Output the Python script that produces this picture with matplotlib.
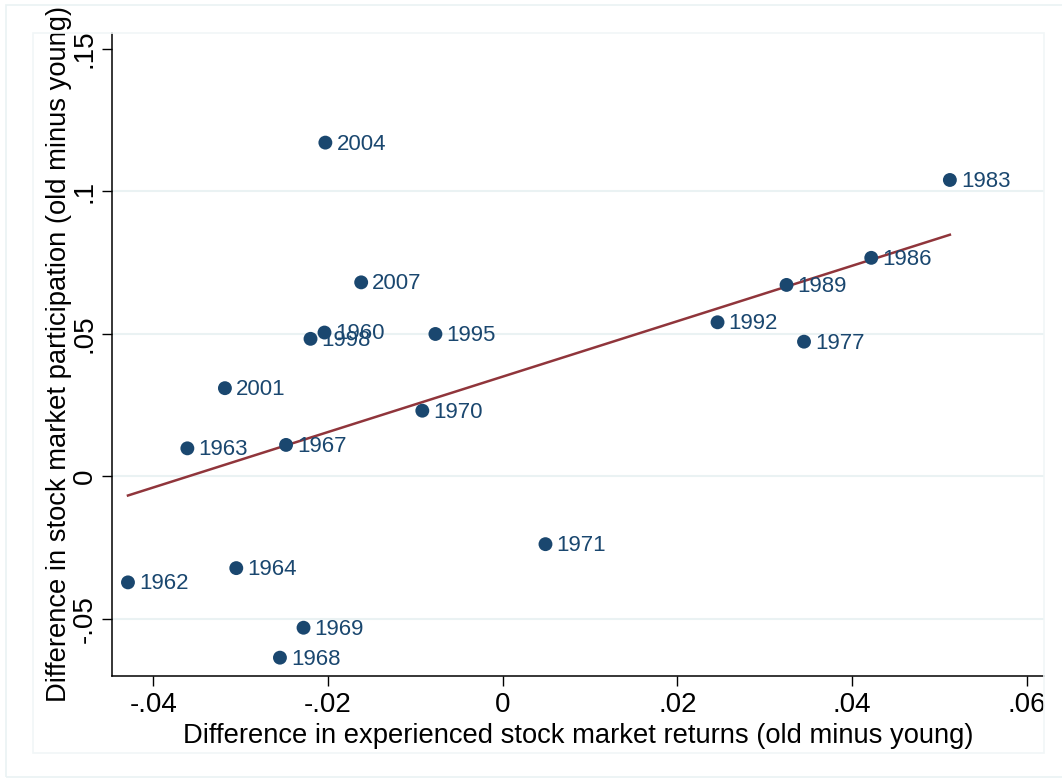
import matplotlib
matplotlib.use("Agg")
import matplotlib.pyplot as plt
from matplotlib.patches import Rectangle
import numpy as np

plt.rcParams['font.family'] = ['Liberation Sans', 'DejaVu Sans']

# cohort years and old-minus-young differences
years = ['2004', '1983', '1986', '1989', '1992', '1977', '2007', '1960', '1998',
         '1995', '2001', '1970', '1963', '1967', '1962', '1964', '1969', '1968',
         '1971']
ret_diff = [-0.0203, 0.0512, 0.0422, 0.0325, 0.0246, 0.0345, -0.0162, -0.0204,
            -0.0220, -0.0077, -0.0318, -0.0092, -0.0361, -0.0248, -0.0429,
            -0.0305, -0.0228, -0.0255, 0.0049]
part_diff = [0.1170, 0.1039, 0.0766, 0.0671, 0.0540, 0.0472, 0.0680, 0.0504,
             0.0482, 0.0499, 0.0309, 0.0230, 0.0098, 0.0110, -0.0372, -0.0322,
             -0.0531, -0.0636, -0.0238]

xticks = [-0.04, -0.02, 0, 0.02, 0.04, 0.06]
xticklabels = ['-.04', '-.02', '0', '.02', '.04', '.06']
yticks = [-0.05, 0, 0.05, 0.1, 0.15]
yticklabels = ['-.05', '0', '.05', '.1', '.15']

navy = '#1a476f'
maroon = '#90353b'
grid_col = '#eaf2f3'

fig = plt.figure(figsize=(10.62, 7.78), dpi=100)
ax = fig.add_axes([0.1052, 0.1315, 0.983 - 0.1052, 0.9576 - 0.1315])

# graph region frames
fig.patches.append(Rectangle((6 / 1062, 1 / 778), 1.2, 772 / 778, transform=fig.transFigure,
                             fill=False, ec=grid_col, lw=1.2))
fig.patches.append(Rectangle((33 / 1062, 25 / 778), 1011 / 1062, 720 / 778,
                             transform=fig.transFigure, fill=False, ec='#f1f6f7', lw=1.2))

x = np.array(ret_diff)
y = np.array(part_diff)

# linear fit over the range of the data
slope, icpt = np.polyfit(x, y, 1)
xf = np.array([x.min(), x.max()])
ax.plot(xf, icpt + slope * xf, color=maroon, lw=1.8, zorder=3)

ax.scatter(x, y, s=100, color=navy, edgecolors='none', zorder=4)
for xi, yi, lab in zip(x, y, years):
    ax.annotate(lab, (xi, yi), xytext=(8, -1), textcoords='offset points',
                ha='left', va='center', color=navy, fontsize=16, zorder=5)

for yt in yticks[:-1]:
    ax.axhline(yt, color=grid_col, lw=1.5, zorder=1)

ax.set_xlim(-0.04476, 0.06197)
ax.set_ylim(-0.06992, 0.15544)
ax.set_xticks(xticks)
ax.set_xticklabels(xticklabels)
ax.set_yticks(yticks)
ax.set_yticklabels(yticklabels, rotation=90, va='center')
ax.tick_params(direction='out', length=7, width=1, labelsize=20, pad=3)
ax.tick_params(axis='x', pad=5)

for side in ['top', 'right']:
    ax.spines[side].set_visible(False)
for side in ['left', 'bottom']:
    ax.spines[side].set_linewidth(1.1)

ax.set_xlabel('Difference in experienced stock market returns (old minus young)',
              fontsize=19.7, labelpad=3)
ax.set_ylabel('Difference in stock market participation (old minus young)',
              fontsize=19.7, labelpad=0)

fig.savefig('out.png', dpi=100)
